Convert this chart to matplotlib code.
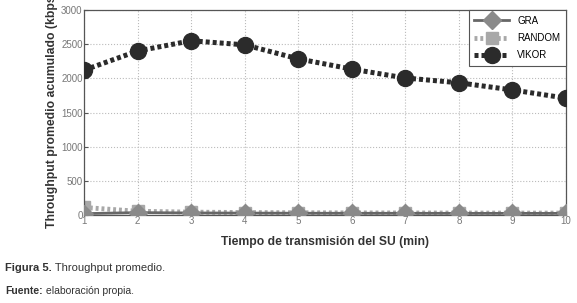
import matplotlib
matplotlib.use("Agg")
import matplotlib.pyplot as plt

# data
minutes = [1, 2, 3, 4, 5, 6, 7, 8, 9, 10]
gra = [20, 35, 30, 28, 26, 25, 25, 24, 24, 24]
random_sel = [110, 55, 42, 36, 33, 31, 30, 29, 28, 28]
vikor = [2120, 2400, 2550, 2490, 2285, 2135, 2005, 1935, 1830, 1710]
yticks = [0, 500, 1000, 1500, 2000, 2500, 3000]

plt.rcParams['font.family'] = ['Liberation Sans', 'DejaVu Sans']
narrow = ['Liberation Sans Narrow', 'Liberation Sans', 'DejaVu Sans']

fig = plt.figure(figsize=(5.77, 3.03), dpi=100)
ax = fig.add_axes([0.1456, 0.2904, 0.8354, 0.6766])

ax.plot(minutes, gra, color='#676767', lw=2.0, ls='-',
        marker='D', ms=9, mfc='#8a8a8a', mec='#8a8a8a', label='GRA', zorder=3)
ax.plot(minutes, random_sel, color='#a8a8a8', lw=3.5, ls=(0, (0.6, 0.6)),
        marker='s', ms=9, mfc='#a8a8a8', mec='#a8a8a8', label='RANDOM', zorder=2)
ax.plot(minutes, vikor, color='#2b2b2b', lw=3.6, ls=(0, (0.8, 0.6)),
        marker='o', ms=11.5, mfc='#2b2b2b', mec='#2b2b2b', label='VIKOR', zorder=4)

ax.set_xlim(1, 10)
ax.set_ylim(0, 3000)
ax.set_xticks(minutes)
ax.set_yticks(yticks)
ax.tick_params(direction='in', length=3, labelsize=7, colors='#555555',
               labelcolor='#777777', pad=1)
ax.grid(True, ls=':', color='#bbbbbb', lw=0.8)
for s in ax.spines.values():
    s.set_color('#555555')
    s.set_linewidth(0.9)

ax.set_xlabel('Tiempo de transmisión del SU (min)', fontsize=8.7,
              fontweight='bold', color='#333333', labelpad=7)
ax.set_ylabel('Throughput promedio acumulado (kbps)', fontsize=8.8,
              fontweight='bold', color='#333333')
ax.yaxis.set_label_coords(-0.054, 0.515)

leg = ax.legend(loc='upper right', fontsize=7, handlelength=3.6,
                borderaxespad=0, fancybox=False, framealpha=1,
                edgecolor='#555555', labelspacing=0.75, borderpad=0.6)
leg.get_frame().set_linewidth(0.8)

# caption lines: bold lead word then normal text placed right after it
renderer = fig.canvas.get_renderer()
for y, lead, rest, size in [(0.105, 'Figura 5.', ' Throughput promedio.', 8),
                            (0.03, 'Fuente:', ' elaboración propia.', 7.5)]:
    t = fig.text(0.009, y, lead, fontsize=size, color='#333333',
                 fontweight='bold', family=narrow)
    bb = t.get_window_extent(renderer=renderer)
    x1 = fig.transFigure.inverted().transform((bb.x1, bb.y0))[0]
    fig.text(x1, y, rest, fontsize=size, color='#333333', family=narrow)

fig.savefig('out.png', dpi=100)
